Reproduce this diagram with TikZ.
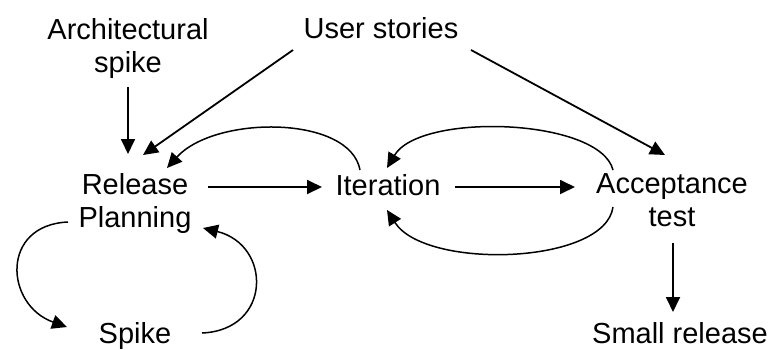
\documentclass[tikz,border=0pt]{standalone}
\usepackage{fontspec}
\setmainfont{Liberation Sans}
\usetikzlibrary{arrows.meta}
\begin{document}
\begin{tikzpicture}[x=1pt,y=-1pt,
  lbl/.style={inner sep=0pt,outer sep=0pt,align=center,font=\fontsize{29pt}{33pt}\selectfont},
  arr/.style={line width=1.8pt,-{Triangle[length=15pt,width=14pt]}},
  carr/.style={line width=1.5pt,-{Triangle[length=15pt,width=14pt]}}]
\useasboundingbox (0,0) rectangle (771,349);
\node[lbl] (as) at (128,48) {Architectural\\spike};
\node[lbl,anchor=base] (us) at (381,38) {User stories};
\node[lbl] (rp) at (135,203.5) {Release\\Planning};
\node[lbl,anchor=base] (it) at (388,195) {Iteration};
\node[lbl] (at) at (672,200.5) {Acceptance\\test};
\node[lbl,anchor=base] (sm) at (680,343) {Small release};
\node[lbl,anchor=base] (sp) at (135,343) {Spike};
% straight arrows
\draw[arr] ([shift={(0,39)}]as.center) -- ([shift={(-7,-49.5)}]rp.center);
\draw[arr] ([shift={(-88,12)}]us.base) -- ([shift={(8,-48.5)}]rp.center);
\draw[arr] ([shift={(90,12)}]us.base) -- ([shift={(-7,-45.5)}]at.center);
\draw[arr] ([shift={(73,-16.5)}]rp.center) -- ([shift={(-66,-8)}]it.base);
\draw[arr] ([shift={(67,-8)}]it.base) -- ([shift={(-97,-13.5)}]at.center);
\draw[arr] ([shift={(1,42.5)}]at.center) -- ([shift={(-7,-31)}]sm.base);
% curved arrows
\draw[carr] ([shift={(-28,-25)}]it.base) .. controls (350,115) and (215,115) .. ([shift={(32,-35.5)}]rp.center);
\draw[carr] ([shift={(-59,-30.5)}]at.center) .. controls (600,118) and (420,112) .. ([shift={(-1,-27)}]it.base);
\draw[carr] ([shift={(-59,6.5)}]at.center) .. controls (605,265) and (425,270) .. ([shift={(-1,15)}]it.base);
\draw[carr] ([shift={(-67,18.5)}]rp.center) .. controls (0,225) and (5,305) .. ([shift={(-68,-16)}]sp.base);
\draw[carr] ([shift={(67,-10)}]sp.base) .. controls (272,330) and (272,245) .. ([shift={(68,24.5)}]rp.center);
\end{tikzpicture}
\end{document}
